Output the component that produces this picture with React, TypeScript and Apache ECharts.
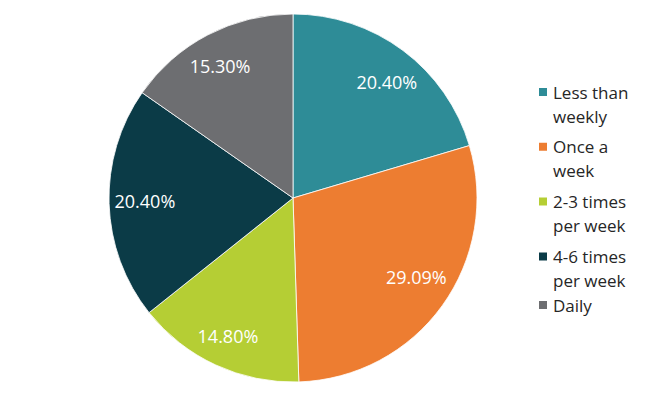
import React, { useEffect, useRef } from "react";
import * as echarts from "echarts";

const categories = ["Less than weekly", "Once a week", "2-3 times per week", "4-6 times per week", "Daily"];
const legendLabels = ["Less than\nweekly", "Once a\nweek", "2-3 times\nper week", "4-6 times\nper week", "Daily"];
const values = [20.4, 29.09, 14.8, 20.4, 15.3];
const valueLabels = ["20.40%", "29.09%", "14.80%", "20.40%", "15.30%"];
const colors = ["#2E8C97", "#ED7D31", "#B5CE34", "#0B3B47", "#6D6E71"];

const labelDx = [4, 1.5, -2, 2, -3.5];
const labelDy = [4.5, -9, 1.5, -1.5, 1];

const FONT = "'Open Sans', 'Noto Sans', sans-serif";

export default function App() {
  const ref = useRef<HTMLDivElement>(null);
  useEffect(() => {
    if (!ref.current) return;
    const chart = echarts.init(ref.current, undefined, { renderer: "svg" });
    const R = 184;
    const center = [293, 198];
    const twoLineIcon = "path://M0,0h0.01v0.01h-0.01z M0,7h10v10h-10z M0,47.99h0.01v0.01h-0.01z";
    const data = categories.map((name, i) => ({ name, value: values[i], itemStyle: { color: colors[i] } }));
    const legendText = { fontFamily: FONT, fontSize: 17, lineHeight: 24, color: "#262626" };
    const formatter = (name: string) => legendLabels[categories.indexOf(name)];
    chart.setOption({
      animation: false,
      backgroundColor: "#ffffff",
      legend: [
        {
          orient: "vertical",
          left: 532,
          top: 74,
          itemWidth: 10,
          itemHeight: 48,
          itemGap: 4.8,
          selectedMode: false,
          icon: twoLineIcon,
          data: categories.slice(0, 4),
          formatter,
          textStyle: legendText,
        },
        {
          orient: "vertical",
          left: 532,
          top: 288,
          itemWidth: 10,
          itemHeight: 10,
          selectedMode: false,
          icon: "rect",
          data: categories.slice(4),
          formatter,
          textStyle: legendText,
        },
      ],
      series: [
        {
          type: "pie",
          center,
          radius: [0, R],
          startAngle: 90,
          clockwise: true,
          label: { show: false },
          labelLine: { show: false },
          itemStyle: { borderColor: "#ffffff", borderWidth: 0.8 },
          emphasis: { disabled: true },
          data,
        },
        {
          type: "pie",
          center,
          radius: [R * 0.6, R],
          startAngle: 90,
          clockwise: true,
          silent: true,
          itemStyle: { color: "rgba(0,0,0,0)" },
          label: {
            show: true,
            position: "inside",
            color: "#ffffff",
            fontFamily: FONT,
            fontSize: 18,
            formatter: (p: any) => valueLabels[p.dataIndex],
          },
          labelLayout: (p: any) => ({ dx: labelDx[p.dataIndex], dy: labelDy[p.dataIndex] }),
          labelLine: { show: false },
          emphasis: { disabled: true },
          data: categories.map((name, i) => ({ name: name + " ", value: values[i] })),
        },
      ],
    });
    return () => chart.dispose();
  }, []);
  return <div ref={ref} style={{ position: "absolute", left: 0, top: 0, width: 666, height: 397 }} />;
}
